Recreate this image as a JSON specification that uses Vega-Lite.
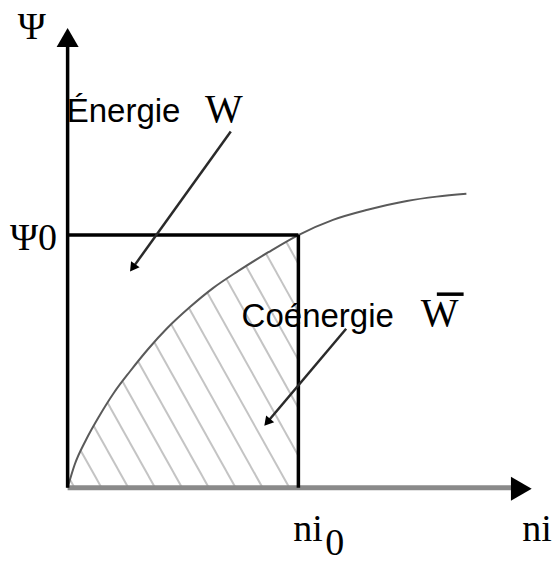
{
  "$schema": "https://vega.github.io/schema/vega-lite/v6.json",
  "width": 552,
  "height": 563,
  "padding": 0,
  "autosize": {"type": "fit", "contains": "padding"},
  "background": "white",
  "config": {"view": {"stroke": null}},
  "datasets": {
    "curve": [
      {"ni": 0, "psi": 0},
      {"ni": 0.03, "psi": 0.09},
      {"ni": 0.08, "psi": 0.19},
      {"ni": 0.138, "psi": 0.285},
      {"ni": 0.2, "psi": 0.375},
      {"ni": 0.27, "psi": 0.46},
      {"ni": 0.35, "psi": 0.55},
      {"ni": 0.43, "psi": 0.63},
      {"ni": 0.53, "psi": 0.715},
      {"ni": 0.63, "psi": 0.79},
      {"ni": 0.74, "psi": 0.858},
      {"ni": 0.87, "psi": 0.932},
      {"ni": 1, "psi": 1},
      {"ni": 1.15, "psi": 1.06},
      {"ni": 1.3, "psi": 1.1},
      {"ni": 1.47, "psi": 1.135},
      {"ni": 1.6, "psi": 1.152},
      {"ni": 1.728, "psi": 1.163}
    ],
    "hatch": [
      {"x": 0.03, "y": 0, "x2": 0, "y2": 0.049},
      {"x": 0.147, "y": 0, "x2": 0, "y2": 0.239},
      {"x": 0.263, "y": 0, "x2": 0, "y2": 0.429},
      {"x": 0.379, "y": 0, "x2": 0, "y2": 0.619},
      {"x": 0.496, "y": 0, "x2": 0, "y2": 0.809},
      {"x": 0.612, "y": 0, "x2": 0, "y2": 0.998},
      {"x": 0.728, "y": 0, "x2": 0.116, "y2": 1},
      {"x": 0.845, "y": 0, "x2": 0.233, "y2": 1},
      {"x": 0.961, "y": 0, "x2": 0.349, "y2": 1},
      {"x": 1, "y": 0.127, "x2": 0.466, "y2": 1},
      {"x": 1, "y": 0.316, "x2": 0.582, "y2": 1},
      {"x": 1, "y": 0.506, "x2": 0.698, "y2": 1},
      {"x": 1, "y": 0.696, "x2": 0.815, "y2": 1},
      {"x": 1, "y": 0.886, "x2": 0.931, "y2": 1}
    ],
    "xaxis": [{"x": 0, "y": 0, "x2": 1.95, "y2": 0}],
    "frame": [
      {"x": 0, "y": 0, "x2": 0, "y2": 1.78},
      {"x": 0, "y": 1, "x2": 1, "y2": 1},
      {"x": 1, "y": 0, "x2": 1, "y2": 1}
    ],
    "pointers": [
      {"x": 0.707, "y": 1.41, "x2": 0.282, "y2": 0.87},
      {"x": 1.207, "y": 0.629, "x2": 0.865, "y2": 0.259}
    ],
    "overbar": [{"x": 1.6, "y": 0.766, "x2": 1.716, "y2": 0.766}]
  },
  "encoding": {
    "x": {"type": "quantitative", "scale": {"domain": [-0.293, 2.086], "nice": false, "zero": false}, "axis": null},
    "y": {"type": "quantitative", "scale": {"domain": [-0.27, 1.93], "nice": false, "zero": false}, "axis": null}
  },
  "layer": [
    {
      "data": {"name": "hatch"},
      "mark": {"type": "rule", "color": "#c4c4c4", "strokeWidth": 2},
      "encoding": {"x": {"field": "x"}, "y": {"field": "y"}, "x2": {"field": "x2"}, "y2": {"field": "y2"}}
    },
    {
      "data": {"name": "curve"},
      "transform": [{"filter": "datum.ni <= 1"}],
      "mark": {"type": "area", "color": "white", "interpolate": "monotone", "orient": "vertical"},
      "encoding": {"x": {"field": "ni"}, "y": {"field": "psi"}, "y2": {"datum": 1}}
    },
    {
      "data": {"name": "curve"},
      "mark": {"type": "line", "color": "#5a5a5a", "strokeWidth": 2, "interpolate": "monotone"},
      "encoding": {"x": {"field": "ni"}, "y": {"field": "psi"}}
    },
    {
      "data": {"name": "xaxis"},
      "mark": {"type": "rule", "color": "#8a8a8a", "strokeWidth": 5},
      "encoding": {"x": {"field": "x"}, "y": {"field": "y"}, "x2": {"field": "x2"}, "y2": {"field": "y2"}}
    },
    {
      "data": {"name": "frame"},
      "mark": {"type": "rule", "color": "black", "strokeWidth": 3.5},
      "encoding": {"x": {"field": "x"}, "y": {"field": "y"}, "x2": {"field": "x2"}, "y2": {"field": "y2"}}
    },
    {
      "data": {"values": [{"x": 0, "y": 1.782}]},
      "mark": {"type": "point", "shape": "triangle-up", "filled": true, "color": "black", "opacity": 1, "size": 484},
      "encoding": {"x": {"field": "x"}, "y": {"field": "y"}}
    },
    {
      "data": {"values": [{"x": 1.966, "y": -0.004}]},
      "mark": {"type": "point", "shape": "triangle-right", "filled": true, "color": "black", "opacity": 1, "size": 576},
      "encoding": {"x": {"field": "x"}, "y": {"field": "y"}}
    },
    {
      "data": {"name": "pointers"},
      "mark": {"type": "rule", "color": "#2a2a2a", "strokeWidth": 2.5},
      "encoding": {"x": {"field": "x"}, "y": {"field": "y"}, "x2": {"field": "x2"}, "y2": {"field": "y2"}}
    },
    {
      "data": {"values": [{"x": 0.282, "y": 0.87}]},
      "mark": {"type": "point", "shape": "triangle-up", "filled": true, "color": "black", "opacity": 1, "size": 110, "angle": 215.5},
      "encoding": {"x": {"field": "x"}, "y": {"field": "y"}}
    },
    {
      "data": {"values": [{"x": 0.865, "y": 0.259}]},
      "mark": {"type": "point", "shape": "triangle-up", "filled": true, "color": "black", "opacity": 1, "size": 110, "angle": 220},
      "encoding": {"x": {"field": "x"}, "y": {"field": "y"}}
    },
    {
      "data": {"name": "overbar"},
      "mark": {"type": "rule", "color": "black", "strokeWidth": 3.5},
      "encoding": {"x": {"field": "x"}, "y": {"field": "y"}, "x2": {"field": "x2"}, "y2": {"field": "y2"}}
    },
    {
      "data": {"values": [
        {"label": "Énergie", "x": -0.004, "y": 1.449},
        {"label": "Coénergie", "x": 0.754, "y": 0.637}
      ]},
      "mark": {"type": "text", "font": "Liberation Sans", "fontSize": 33, "align": "left", "baseline": "alphabetic", "color": "black"},
      "encoding": {"x": {"field": "x"}, "y": {"field": "y"}, "text": {"field": "label"}}
    },
    {
      "data": {"values": [
        {"label": "W", "x": 0.677, "y": 1.449},
        {"label": "W", "x": 1.612, "y": 0.641}
      ]},
      "mark": {"type": "text", "font": "Liberation Serif", "fontSize": 40, "align": "center", "baseline": "alphabetic", "color": "black"},
      "encoding": {"x": {"field": "x"}, "y": {"field": "y"}, "text": {"field": "label"}}
    },
    {
      "data": {"values": [
        {"label": "Ψ", "x": -0.216, "y": 1.777},
        {"label": "Ψ0", "x": -0.25, "y": 0.941},
        {"label": "ni", "x": 0.978, "y": -0.211},
        {"label": "0", "x": 1.116, "y": -0.266},
        {"label": "ni", "x": 1.97, "y": -0.211}
      ]},
      "mark": {"type": "text", "font": "Liberation Serif", "fontSize": 38, "align": "left", "baseline": "alphabetic", "color": "black"},
      "encoding": {"x": {"field": "x"}, "y": {"field": "y"}, "text": {"field": "label"}}
    }
  ]
}
